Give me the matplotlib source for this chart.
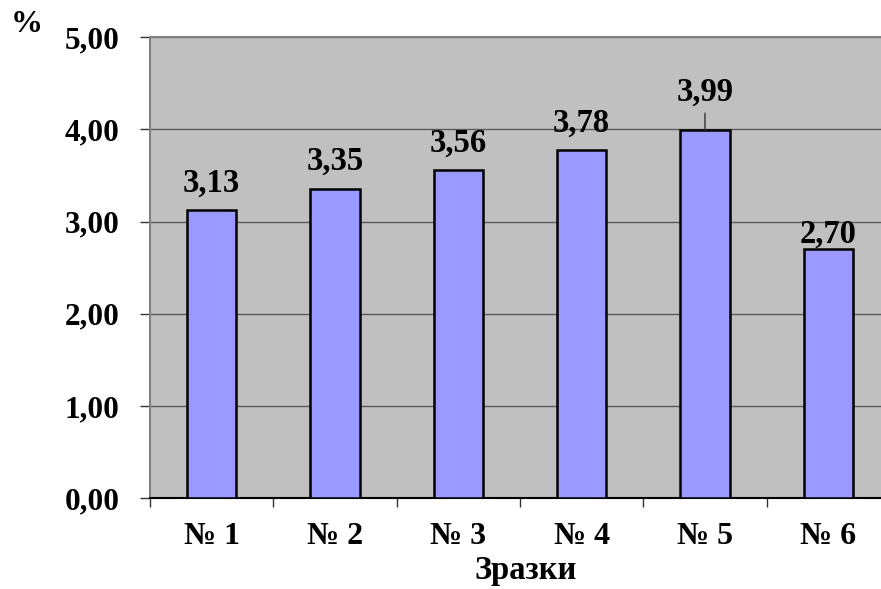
import matplotlib
matplotlib.use("Agg")
import matplotlib.pyplot as plt
import numpy as np

categories = ["№ 1", "№ 2", "№ 3", "№ 4", "№ 5", "№ 6"]
values = [3.13, 3.35, 3.56, 3.78, 3.99, 2.70]
yticks = [0, 1, 2, 3, 4, 5]
label_offsets_px = [18, 19, 18, 18, 29, 6]
leader = [False, False, False, False, True, False]

plt.rcParams['font.family'] = ['Liberation Serif', 'DejaVu Serif']
plt.rcParams['font.weight'] = 'bold'

W, H = 881, 589
fig = plt.figure(figsize=(W / 100, H / 100), dpi=100)
fig.patch.set_facecolor('white')
ax = fig.add_axes([150 / W, (H - 498.3) / H, 740 / W, 461.3 / H])
ax.set_facecolor('#C0C0C0')

x = np.arange(len(categories))
bars = ax.bar(x, values, width=0.4, color='#9999FF', edgecolor='black', linewidth=1.8, zorder=3)

ax.set_xlim(-0.5, len(categories) - 0.5)
ax.set_ylim(0, 5)
ax.set_yticks(yticks)
ax.set_yticklabels([f"{v:.2f}".replace('.', ',') for v in yticks], fontsize=22.5, fontweight='bold')
ax.yaxis.grid(True, color='#5a5a5a', linewidth=1.0, zorder=1)
ax.set_axisbelow(True)

ax.set_xticks(x)
ax.set_xticklabels(categories, fontsize=23, fontweight='bold')
ax.tick_params(axis='x', which='major', length=0, pad=17)
ax.set_xticks(np.arange(len(categories) + 1) - 0.5, minor=True)
ax.tick_params(axis='x', which='minor', length=6.5, width=1.0, color='#333333', direction='out')
ax.tick_params(axis='y', length=7, width=1.0, color='#333333', direction='out', pad=15)

for s in ['top', 'right']:
    ax.spines[s].set_color('#808080')
    ax.spines[s].set_linewidth(1.5)
ax.spines['left'].set_color('#808080')
ax.spines['left'].set_linewidth(1.5)
ax.spines['bottom'].set_color('black')
ax.spines['bottom'].set_linewidth(1.5)

for xi, v, off, ld in zip(x, values, label_offsets_px, leader):
    ax.annotate(f"{v:.2f}".replace('.', ','), xy=(xi, v), xytext=(0, off),
                textcoords='offset pixels', ha='center', va='baseline',
                fontsize=23.5, fontweight='bold', zorder=5)
    if ld:
        ax.annotate("", xy=(xi, v), xytext=(0, off - 12), textcoords='offset pixels',
                    xycoords='data',
                    arrowprops=dict(arrowstyle='-', color='#333333', lw=1.0, shrinkA=0, shrinkB=0),
                    zorder=5)

fig.text(27 / W, 1 - 25 / H, "%", ha='center', va='center', fontsize=23, fontweight='bold')
fig.text(526 / W, 1 - 571 / H, "Зразки", ha='center', va='center', fontsize=23.5, fontweight='bold')

fig.savefig("out.png", dpi=100)
